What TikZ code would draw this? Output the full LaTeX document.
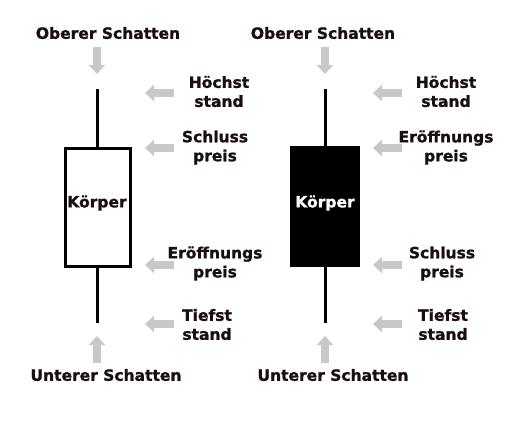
\documentclass[tikz,border=0pt]{standalone}
\usepackage{fontspec}
\setmainfont[BoldFeatures={FakeBold=1.2}]{DejaVu Sans}
\usetikzlibrary{arrows.meta}
\definecolor{txt}{RGB}{26,14,14}
\definecolor{arr}{RGB}{200,200,200}
\tikzset{
  lbl/.style={font=\bfseries\fontsize{15.5}{19}\selectfont, text=txt, align=center, inner sep=0pt},
  grayarrow/.style={draw=arr, line width=7.5pt, -{Triangle[width=16pt,length=9pt]}, shorten >=0pt},
  wick/.style={line width=3pt, draw=black},
}
\begin{document}
\begin{tikzpicture}[x=1pt,y=-1pt]
\useasboundingbox (0,0) rectangle (505,423);
% left candle
\coordinate (lwt) at (97,89);
\coordinate (lbt) at (97,147);
\coordinate (lbb) at (97,267);
\coordinate (lwb) at (97,323);
\draw[wick] (lwt) -- (lbt);
\draw[wick] (lbb) -- (lwb);
\node[draw=black, line width=3pt, fill=white, minimum width=65pt, minimum height=118pt, inner sep=0pt] (lbody) at (98,207) {};
\node[lbl] (lk) at (97,203) {Körper};
% right candle
\coordinate (rwt) at (325,89);
\coordinate (rbt) at (325,147);
\coordinate (rbb) at (325,267);
\coordinate (rwb) at (325,323);
\draw[wick] (rwt) -- (rbt);
\draw[wick] (rbb) -- (rwb);
\node[fill=black, minimum width=70pt, minimum height=121pt, inner sep=0pt] (rbody) at (325,206.5) {};
\node[lbl, text=white] (rk) at (325,203) {Körper};
% top/bottom labels
\node[lbl] (lo) at (108,33) {Oberer Schatten};
\node[lbl] (ro) at (323,33) {Oberer Schatten};
\node[lbl] (lu) at (106,375) {Unterer Schatten};
\node[lbl] (ru) at (333,375) {Unterer Schatten};
% vertical arrows
\coordinate (lda) at (97,47); \coordinate (ldb) at (97,74);
\coordinate (rda) at (325,47); \coordinate (rdb) at (325,74);
\coordinate (lua) at (97,363); \coordinate (lub) at (97,336);
\coordinate (rua) at (325,363); \coordinate (rub) at (325,336);
\draw[grayarrow] (lda) -- (ldb);
\draw[grayarrow] (rda) -- (rdb);
\draw[grayarrow] (lua) -- (lub);
\draw[grayarrow] (rua) -- (rub);
% left side labels
\node[lbl] (l1) at (219,91.5) {Höchst\\stand};
\node[lbl] (l2) at (215,147.5) {Schluss\\preis};
\node[lbl] (l3) at (215,263.5) {Eröffnungs\\preis};
\node[lbl] (l4) at (207,324.5) {Tiefst\\stand};
% right side labels
\node[lbl] (r1) at (446,91.5) {Höchst\\stand};
\node[lbl] (r2) at (446,147.5) {Eröffnungs\\preis};
\node[lbl] (r3) at (442,263.5) {Schluss\\preis};
\node[lbl] (r4) at (443,324.5) {Tiefst\\stand};
% horizontal arrows
\foreach \y [count=\i] in {93,148,265,324}{
  \coordinate (la\i) at (174,\y); \coordinate (lb\i) at (145,\y);
  \coordinate (ra\i) at (402,\y); \coordinate (rb\i) at (373,\y);
  \draw[grayarrow] (la\i) -- (lb\i);
  \draw[grayarrow] (ra\i) -- (rb\i);
}
\end{tikzpicture}
\end{document}
